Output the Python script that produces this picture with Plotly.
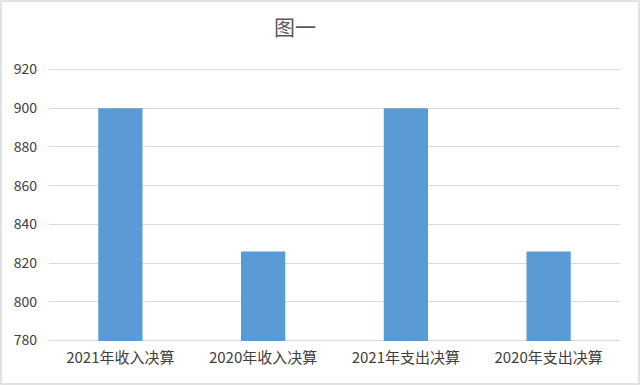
import plotly.graph_objects as go

categories = ["2021年收入决算", "2020年收入决算", "2021年支出决算", "2020年支出决算"]
values = [900, 826, 900, 826]
y_ticks = [780, 800, 820, 840, 860, 880, 900, 920]
title_text = "图一"

W, H = 640, 385
ml, mr, mt, mb = 49, 20, 69, 44
pw = W - ml - mr
ph = H - mt - mb

fig = go.Figure(go.Bar(x=categories, y=values, marker=dict(color="#5B9BD5", line=dict(width=0)),
                       width=0.31))

font = "Microsoft YaHei, Noto Sans CJK SC, sans-serif"
edge_lines = [dict(type="line", xref="paper", yref="y", x0=0, x1=1, y0=v, y1=v,
                   line=dict(color="#D9D9D9", width=1), layer="below")
              for v in (y_ticks[0], y_ticks[-1])]
fig.update_layout(
    width=W, height=H,
    margin=dict(l=ml, r=mr, t=mt, b=mb),
    paper_bgcolor="white", plot_bgcolor="white",
    showlegend=False,
    font=dict(family=font, color="#595959", size=14),
    title=dict(text=title_text, x=295 / W, xanchor="center", y=1 - 28 / H, yanchor="middle",
               font=dict(size=21, color="#595959", family=font)),
    xaxis=dict(showgrid=False, showline=False, ticks="", tickfont=dict(size=15, color="#404040"),
               ticklabelstandoff=6),
    yaxis=dict(range=[779.7, 920.3], tickvals=y_ticks, showgrid=True, gridcolor="#D9D9D9", gridwidth=1,
               zeroline=False, showline=False, ticks="", tickfont=dict(size=14, color="#404040"),
               ticklabelstandoff=11),
    shapes=edge_lines + [dict(type="rect", xref="paper", yref="paper",
                 x0=-(ml - 1) / pw, x1=1 + (mr - 1) / pw,
                 y0=-(mb - 1) / ph, y1=1 + (mt - 1) / ph,
                 line=dict(color="#D9D9D9", width=1.5), fillcolor="rgba(0,0,0,0)")],
)
fig.write_html("out.html", config={"displayModeBar": False},
               post_script="document.body.style.margin='0';")
